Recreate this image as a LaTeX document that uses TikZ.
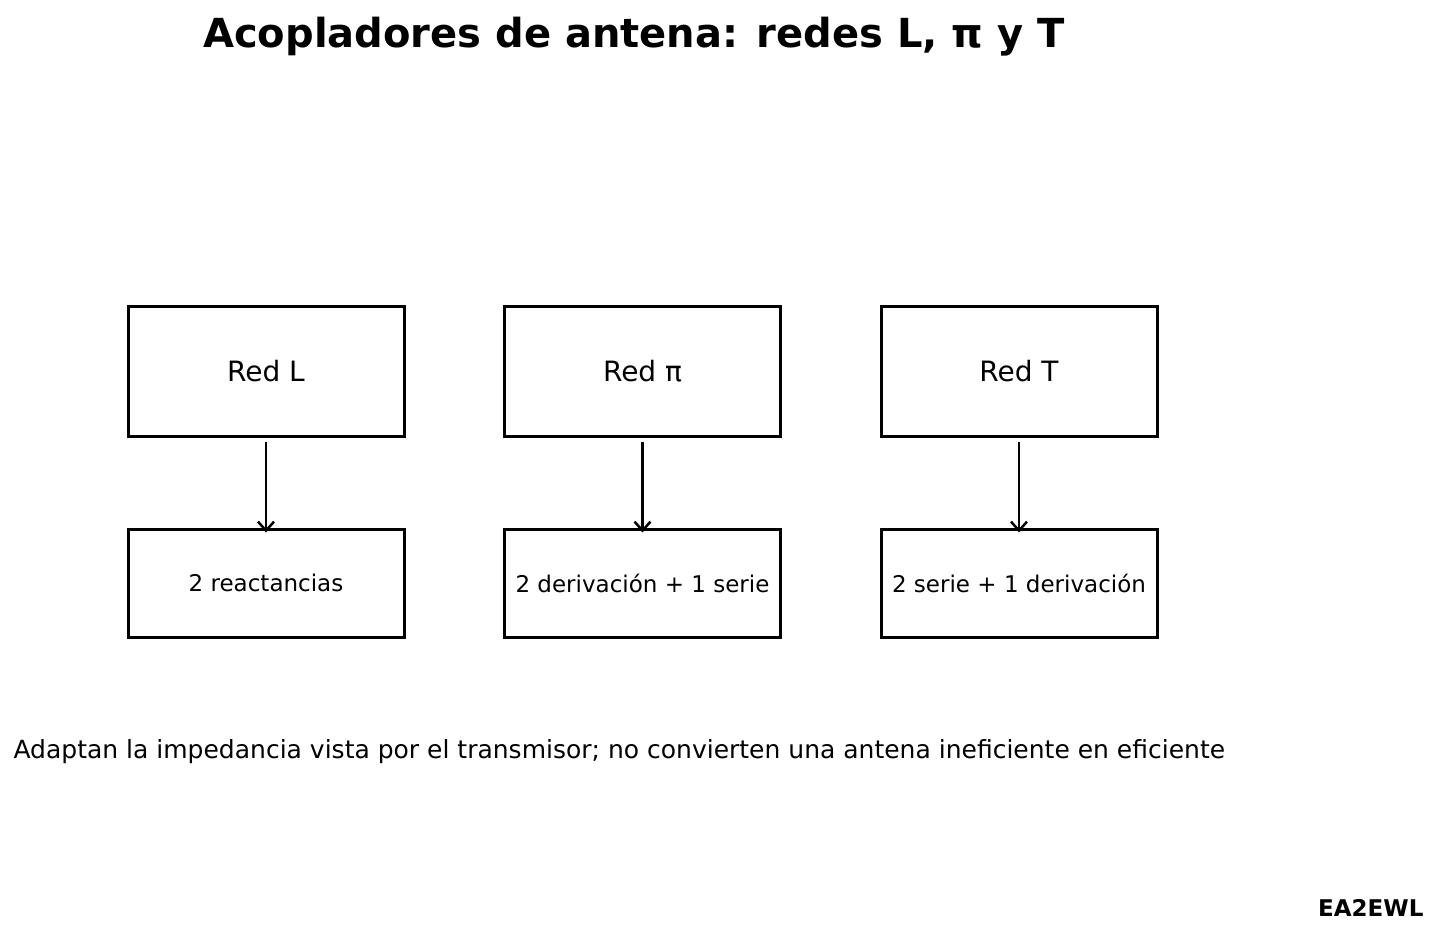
\documentclass[tikz,border=0pt]{standalone}
\usepackage{fontspec}
\setmainfont{DejaVu Sans}
\usetikzlibrary{arrows.meta}
\begin{document}
\begin{tikzpicture}[x=1pt,y=-1pt,
 box/.style={draw,line width=3pt,inner sep=0pt},
 arr/.style={line width=2.5pt,-{Straight Barb[length=9pt,width=16pt,line width=2.5pt]}}]
\useasboundingbox (0,0) rectangle (1438,939);
\node (title) at (634,37) {\fontsize{40}{48}\selectfont\bfseries Acopladores de antena: redes L, π y T};
\foreach \n/\x/\a/\b in {l/266/Red L/2 reactancias, p/642.5/Red π/2 derivación + 1 serie, t/1019/Red T/2 serie + 1 derivación}{
 \node[box,minimum width=276pt,minimum height=130pt] (top\n) at (\x,371) {\fontsize{28}{32}\selectfont \a};
 \node[box,minimum width=276pt,minimum height=108pt] (bot\n) at (\x,583) {\fontsize{23}{28}\selectfont \b};
 \draw[arr] ([yshift=-4pt]top\n.south) -- ([yshift=-5pt]bot\n.north);
}
\node[anchor=west] (note) at (10,752) {\fontsize{25}{30}\selectfont Adaptan la impedancia vista por el transmisor; no convierten una antena ineficiente en eficiente};
\node[anchor=east] (sig) at (1427,908) {\fontsize{23}{28}\selectfont\bfseries EA2EWL};
\end{tikzpicture}
\end{document}
